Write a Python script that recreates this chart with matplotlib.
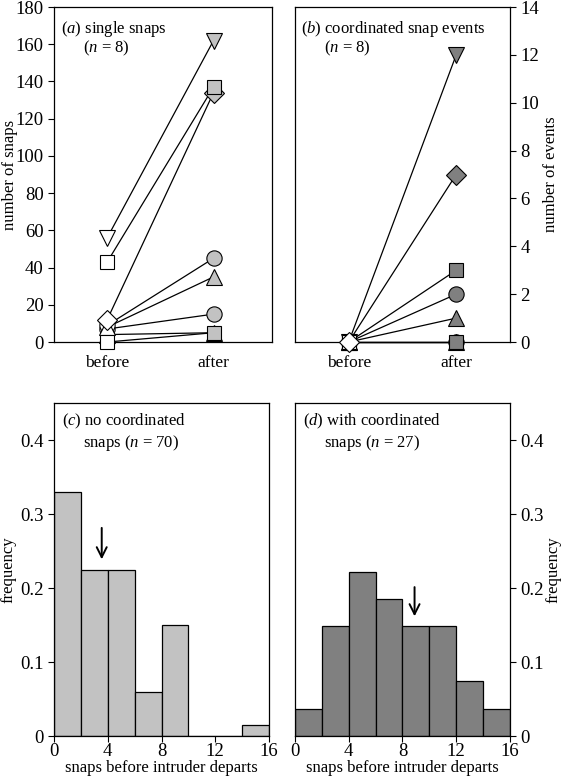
import numpy as np
import matplotlib
matplotlib.use('Agg')
import matplotlib.pyplot as plt

plt.rcParams['font.family'] = 'Liberation Serif'
plt.rcParams['mathtext.fontset'] = 'custom'
plt.rcParams['mathtext.rm'] = 'Liberation Serif'
plt.rcParams['mathtext.it'] = 'Liberation Serif:italic'
plt.rcParams['font.size'] = 12

# dados - ordem de desenho: o ultimo fica por cima
marcadores = ['^', 'o', 'o', '^', 'D', 'v', 's', 's']
antes_snaps = [4, 7, 9, 8, 12, 56, 43, 0]
depois_snaps = [5, 15, 45, 35, 134, 162, 137, 5]

marcadores_b = ['^', 'o', 's', 'v', 'o', '^', 's', 'D']
antes_eventos = [0, 0, 0, 0, 0, 0, 0, 0]
depois_eventos = [0, 0, 0, 12, 2, 1, 3, 7]

bordas = [0, 2, 4, 6, 8, 10, 12, 14, 16]
freq_sem = [0.33, 0.225, 0.225, 0.06, 0.15, 0.0, 0.0, 0.015]
freq_com = [0.037, 0.148, 0.222, 0.185, 0.148, 0.148, 0.074, 0.037]
seta_sem = 3.55
seta_com = 8.9

cinza_claro = '#c2c2c2'
cinza_escuro = '#808080'
tam = {'D': 10, 's': 10.5, 'o': 11, '^': 11, 'v': 11}

fig = plt.figure(figsize=(5.61, 7.80), dpi=100)
ax_a = fig.add_axes([0.0963, 0.5615, 0.3886, 0.4295])
ax_b = fig.add_axes([0.5258, 0.5615, 0.3832, 0.4295])
ax_c = fig.add_axes([0.0963, 0.0564, 0.3832, 0.4269])
ax_d = fig.add_axes([0.5258, 0.0564, 0.3832, 0.4269])

for ax in [ax_a, ax_b, ax_c, ax_d]:
    ax.tick_params(direction='out', length=4, width=0.8, labelsize=13.5)
    for s in ax.spines.values():
        s.set_linewidth(0.9)

# (a) single snaps
for i in range(len(marcadores)):
    ax_a.plot([1, 2], [antes_snaps[i], depois_snaps[i]], color='black', lw=0.9, zorder=2)
for i in range(len(marcadores)):
    m = marcadores[i]
    ax_a.plot(1, antes_snaps[i], marker=m, ms=tam[m], mfc='white', mec='black', mew=0.8,
              zorder=3 + i * 0.1, clip_on=False)
    ax_a.plot(2, depois_snaps[i], marker=m, ms=tam[m], mfc=cinza_claro, mec='black', mew=0.8,
              zorder=3 + i * 0.1, clip_on=False)
ax_a.set_xlim(0.5, 2.55)
ax_a.set_ylim(0, 180)
ax_a.set_yticks(range(0, 181, 20))
ax_a.set_xticks([1, 2])
ax_a.set_xticklabels(['before', 'after'], fontsize=12.5)
ax_a.tick_params(axis='x', length=0, pad=9)
ax_a.set_ylabel('number of snaps')
ax_a.yaxis.set_label_coords(-0.165, 0.5)
ax_a.text(0.03, 0.965, r'($\mathit{a}$) single snaps', transform=ax_a.transAxes, va='top', ha='left')
ax_a.text(0.135, 0.905, r'($\mathit{n}$ = 8)', transform=ax_a.transAxes, va='top', ha='left')

# (b) coordinated snap events
for i in range(len(marcadores_b)):
    ax_b.plot([1, 2], [antes_eventos[i], depois_eventos[i]], color='black', lw=0.9, zorder=2, clip_on=False)
for i in range(len(marcadores_b)):
    m = marcadores_b[i]
    ax_b.plot(1, antes_eventos[i], marker=m, ms=tam[m], mfc='white', mec='black', mew=0.8,
              zorder=3 + i * 0.1, clip_on=False)
    ax_b.plot(2, depois_eventos[i], marker=m, ms=tam[m], mfc=cinza_escuro, mec='black', mew=0.8,
              zorder=3 + i * 0.1, clip_on=False)
ax_b.set_xlim(0.5, 2.5)
ax_b.set_ylim(0, 14)
ax_b.set_yticks(range(0, 15, 2))
ax_b.yaxis.tick_right()
ax_b.yaxis.set_label_position('right')
ax_b.set_xticks([1, 2])
ax_b.set_xticklabels(['before', 'after'], fontsize=12.5)
ax_b.tick_params(axis='x', length=0, pad=9)
ax_b.set_ylabel('number of events')
ax_b.yaxis.set_label_coords(1.155, 0.5)
ax_b.text(0.03, 0.965, r'($\mathit{b}$) coordinated snap events', transform=ax_b.transAxes, va='top', ha='left')
ax_b.text(0.135, 0.905, r'($\mathit{n}$ = 8)', transform=ax_b.transAxes, va='top', ha='left')

# (c) sem snaps coordenados
larg = np.diff(bordas)
ax_c.bar(bordas[:-1], freq_sem, width=larg, align='edge', color=cinza_claro, edgecolor='black', linewidth=0.9)
ax_c.annotate('', xy=(seta_sem, 0.235), xytext=(seta_sem, 0.285),
              arrowprops=dict(arrowstyle='->', lw=1.4, color='black', mutation_scale=18))
ax_c.set_xlim(0, 16)
ax_c.set_ylim(0, 0.45)
ax_c.set_xticks([0, 4, 8, 12, 16])
ax_c.set_yticks([0, 0.1, 0.2, 0.3, 0.4])
ax_c.set_yticklabels(['0', '0.1', '0.2', '0.3', '0.4'])
ax_c.tick_params(axis='x', pad=1)
ax_c.set_ylabel('frequency')
ax_c.yaxis.set_label_coords(-0.175, 0.5)
ax_c.set_xlabel('snaps before intruder departs', labelpad=0)
ax_c.text(0.037, 0.975, r'($\mathit{c}$) no coordinated', transform=ax_c.transAxes, va='top', ha='left')
ax_c.text(0.135, 0.91, r'snaps ($\mathit{n}$ = 70)', transform=ax_c.transAxes, va='top', ha='left')

# (d) com snaps coordenados
ax_d.bar(bordas[:-1], freq_com, width=larg, align='edge', color=cinza_escuro, edgecolor='black', linewidth=0.9)
ax_d.annotate('', xy=(seta_com, 0.158), xytext=(seta_com, 0.205),
              arrowprops=dict(arrowstyle='->', lw=1.4, color='black', mutation_scale=18))
ax_d.set_xlim(0, 16)
ax_d.set_ylim(0, 0.45)
ax_d.set_xticks([0, 4, 8, 12, 16])
ax_d.set_yticks([0, 0.1, 0.2, 0.3, 0.4])
ax_d.set_yticklabels(['0', '0.1', '0.2', '0.3', '0.4'])
ax_d.tick_params(axis='x', pad=1)
ax_d.yaxis.tick_right()
ax_d.yaxis.set_label_position('right')
ax_d.set_ylabel('frequency')
ax_d.yaxis.set_label_coords(1.165, 0.5)
ax_d.set_xlabel('snaps before intruder departs', labelpad=0)
ax_d.text(0.037, 0.975, r'($\mathit{d}$) with coordinated', transform=ax_d.transAxes, va='top', ha='left')
ax_d.text(0.135, 0.91, r'snaps ($\mathit{n}$ = 27)', transform=ax_d.transAxes, va='top', ha='left')

fig.savefig('out.png', dpi=100)
